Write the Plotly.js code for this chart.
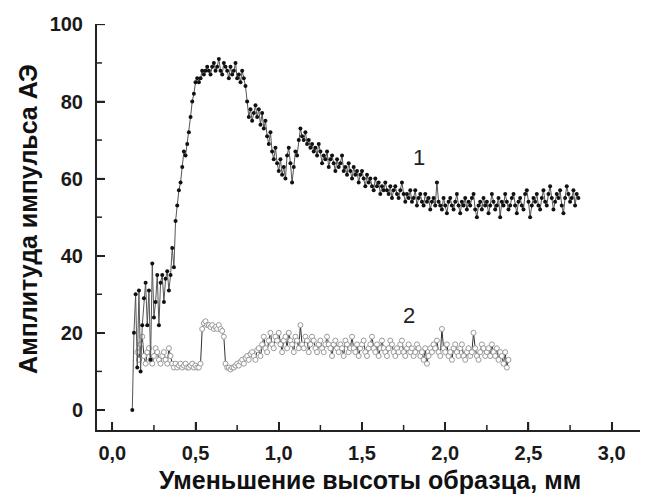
<!DOCTYPE html>
<html><head><meta charset="utf-8">
<script src="https://cdn.plot.ly/plotly-3.0.1.min.js"></script>
<style>html,body{margin:0;padding:0;background:#fff}#chart{width:648px;height:497px}</style>
</head><body><div id="chart"></div>
<script>
var x1 = [0.12,0.13,0.14,0.15,0.16,0.17,0.18,0.19,0.20,0.21,0.22,0.23,0.24,0.25,0.26,0.27,0.28,0.29,0.30,0.31,0.32,0.33,0.34,0.35,0.36,0.37,0.38,0.39,0.40,0.41,0.42,0.43,0.44,0.45,0.46,0.47,0.48,0.49,0.50,0.51,0.52,0.53,0.54,0.55,0.56,0.57,0.58,0.59,0.60,0.61,0.62,0.63,0.64,0.65,0.66,0.67,0.68,0.69,0.70,0.71,0.72,0.73,0.74,0.75,0.76,0.77,0.78,0.79,0.80,0.81,0.82,0.83,0.84,0.85,0.86,0.87,0.88,0.89,0.90,0.91,0.92,0.93,0.94,0.95,0.96,0.97,0.98,0.99,1.00,1.01,1.02,1.03,1.04,1.05,1.06,1.07,1.08,1.09,1.10,1.11,1.12,1.13,1.14,1.15,1.16,1.17,1.18,1.19,1.20,1.21,1.22,1.23,1.24,1.25,1.26,1.27,1.28,1.29,1.30,1.31,1.32,1.33,1.34,1.35,1.36,1.37,1.38,1.39,1.40,1.41,1.42,1.43,1.44,1.45,1.46,1.47,1.48,1.49,1.50,1.51,1.52,1.53,1.54,1.55,1.56,1.57,1.58,1.59,1.60,1.61,1.62,1.63,1.64,1.65,1.66,1.67,1.68,1.69,1.70,1.71,1.72,1.73,1.74,1.75,1.76,1.77,1.78,1.79,1.80,1.81,1.82,1.83,1.84,1.85,1.86,1.87,1.88,1.89,1.90,1.91,1.92,1.93,1.94,1.95,1.96,1.97,1.98,1.99,2.00,2.01,2.02,2.03,2.04,2.05,2.06,2.07,2.08,2.09,2.10,2.11,2.12,2.13,2.14,2.15,2.16,2.17,2.18,2.19,2.20,2.21,2.22,2.23,2.24,2.25,2.26,2.27,2.28,2.29,2.30,2.31,2.32,2.33,2.34,2.35,2.36,2.37,2.38,2.39,2.40,2.41,2.42,2.43,2.44,2.45,2.46,2.47,2.48,2.49,2.50,2.51,2.52,2.53,2.54,2.55,2.56,2.57,2.58,2.59,2.60,2.61,2.62,2.63,2.64,2.65,2.66,2.67,2.68,2.69,2.70,2.71,2.72,2.73,2.74,2.75,2.76,2.77,2.78,2.79,2.80];
var y1 = [0,20,30,11,31,10,22,29,33,22,31,13,38,24,28,35,22,33,35,28,34,36,31,35,42,37,
49,53,57,59,63,67,66,69,72,76,80,82,85,86,
85,86,88,87,88,89,88,87,89,90,88,89,91,88,87,90,89,88,86,89,87,88,90,86,87,85,88,86,
84,80,76,78,75,77,79,76,78,74,77,73,75,71,69,72,67,65,68,64,62,65,61,63,60,66,68,64,59,63,67,66,70,73,71,70,72,69,70,68,69,67,68,66,69,67,64,66,65,67,63,65,66,64,62,65,63,64,66,62,63,61,64,62,60,63,61,62,59,61,62,60,58,61,59,60,58,57,60,58,59,56,58,57,59,57,56,58,55,57,58,56,55,57,59,56,54,56,55,57,54,55,57,53,55,56,54,53,56,54,55,52,54,55,53,59,54,53,52,55,53,51,54,55,53,52,54,56,53,51,54,53,55,52,54,53,55,56,52,50,53,54,52,55,53,54,51,53,56,54,52,53,55,50,54,53,56,54,52,53,55,56,53,51,54,55,53,52,56,57,54,50,53,55,54,56,53,52,55,57,54,53,56,58,55,52,54,56,55,57,53,51,55,58,56,54,55,57,53,56,55];
var x2 = [0.15,0.16,0.17,0.18,0.19,0.20,0.21,0.22,0.23,0.24,0.25,0.26,0.27,0.28,0.29,0.30,0.31,0.32,0.33,0.34,0.35,0.36,0.37,0.38,0.39,0.40,0.41,0.42,0.43,0.44,0.45,0.46,0.47,0.48,0.49,0.50,0.51,0.52,0.53,0.54,0.55,0.56,0.57,0.58,0.59,0.60,0.61,0.62,0.63,0.64,0.65,0.66,0.67,0.68,0.69,0.70,0.71,0.72,0.73,0.74,0.75,0.76,0.77,0.78,0.79,0.80,0.81,0.82,0.83,0.84,0.85,0.86,0.87,0.88,0.89,0.90,0.91,0.92,0.93,0.94,0.95,0.96,0.97,0.98,0.99,1.00,1.01,1.02,1.03,1.04,1.05,1.06,1.07,1.08,1.09,1.10,1.11,1.12,1.13,1.14,1.15,1.16,1.17,1.18,1.19,1.20,1.21,1.22,1.23,1.24,1.25,1.26,1.27,1.28,1.29,1.30,1.31,1.32,1.33,1.34,1.35,1.36,1.37,1.38,1.39,1.40,1.41,1.42,1.43,1.44,1.45,1.46,1.47,1.48,1.49,1.50,1.51,1.52,1.53,1.54,1.55,1.56,1.57,1.58,1.59,1.60,1.61,1.62,1.63,1.64,1.65,1.66,1.67,1.68,1.69,1.70,1.71,1.72,1.73,1.74,1.75,1.76,1.77,1.78,1.79,1.80,1.81,1.82,1.83,1.84,1.85,1.86,1.87,1.88,1.89,1.90,1.91,1.92,1.93,1.94,1.95,1.96,1.97,1.98,1.99,2.00,2.01,2.02,2.03,2.04,2.05,2.06,2.07,2.08,2.09,2.10,2.11,2.12,2.13,2.14,2.15,2.16,2.17,2.18,2.19,2.20,2.21,2.22,2.23,2.24,2.25,2.26,2.27,2.28,2.29,2.30,2.31,2.32,2.33,2.34,2.35,2.36,2.37,2.38];
var y2 = [15,13,17,19,14,12,15,16,13,12,14,16,15,13,12,14,15,13,12,16,14,12,11,
12,11,11.5,12,11,11.5,12,11,11,11.5,12,11,11.5,11,11,12,
21,22.5,23,22,22,21.5,22,21,21.5,21,22,21,20.5,19,
12,11,11,10.5,11,11,11.5,12,11.5,
12.5,13,12,13.5,14,13,14.5,15,14,13,15.5,16,14,17,19,16,15,18,20,17,16,19,18,20,17,15,18,19,16,20,18,17,15,19,18,16,22,17,16,19,18,15,17,19,18,16,15,17,18,16,15,17,19,17,16,14,17,18,16,15,17,16,14,18,17,15,16,19,16,15,17,14,16,17,18,15,14,16,17,19,16,15,17,14,16,18,16,15,14,16,18,17,15,14,16,15,17,18,15,14,16,17,15,16,14,15,17,16,14,15,13,16,12,14,16,15,17,16,18,15,14,21,16,15,17,14,15,13,16,17,15,14,16,17,14,13,15,16,14,15,20,16,14,13,15,17,16,14,15,16,14,17,15,14,16,13,15,14,12,15,11,13];
var xTickVals = [0,0.5,1,1.5,2,2.5,3];
var xMinorVals = [0.25,0.75,1.25,1.75,2.25,2.75];
var xTickText = ['0,0','0,5','1,0','1,5','2,0','2,5','3,0'];
var yTickVals = [0,20,40,60,80,100];
var yMinorVals = [10,30,50,70,90];
var yTickText = ['0','20','40','60','80','100'];
var xTitle = 'Уменьшение высоты образца, мм';
var yTitle = 'Амплитуда импульса АЭ';
var curveLabels = ['1','2'];
var labelPos = [[1.84,65.4],[1.78,24.6]];

var F = 'Liberation Sans, Arial, sans-serif';
var XR = [-0.092, 3.17], YR = [-5.2, 100.1];
var W = 648, H = 497, M = {l:97, r:8, t:24, b:67};
var pxX = (XR[1]-XR[0])/(W-M.l-M.r), pxY = (YR[1]-YR[0])/(H-M.t-M.b);
function bold(a){ return a.map(function(s){ return '<b>'+s+'</b>'; }); }
// tick segments built from the tick arrays and the axis ranges
function xTickSegs(vals, len){
  var xs=[], ys=[];
  vals.forEach(function(v){ xs.push(v,v,null); ys.push(YR[0], YR[0]+len*pxY, null); });
  return {x:xs, y:ys, type:'scatter', mode:'lines', hoverinfo:'skip', cliponaxis:false,
    line:{color:'#222', width:1.5}};
}
function yTickSegs(vals, len){
  var xs=[], ys=[];
  vals.forEach(function(v){ ys.push(v,v,null); xs.push(XR[0], XR[0]+len*pxX, null); });
  return {x:xs, y:ys, type:'scatter', mode:'lines', hoverinfo:'skip', cliponaxis:false,
    line:{color:'#222', width:1.5}};
}
var traces = [
  {x:x2, y:y2, type:'scatter', mode:'lines+markers',
   line:{color:'#333333', width:1},
   marker:{symbol:'circle', size:5, color:'#ffffff', line:{color:'#9a9a9a', width:1}}},
  {x:x1, y:y1, type:'scatter', mode:'lines+markers',
   line:{color:'#555555', width:1},
   marker:{symbol:'circle', size:4, color:'#111111'}},
  xTickSegs(xTickVals, 8), xTickSegs(xMinorVals, 5),
  yTickSegs(yTickVals, 8), yTickSegs(yMinorVals, 5)
];
var layout = {
  width:W, height:H, margin:M,
  paper_bgcolor:'#fff', plot_bgcolor:'#fff',
  showlegend:false,
  xaxis:{
    range:XR, tickmode:'array', tickvals:xTickVals, ticktext:bold(xTickText),
    showline:true, linecolor:'#222', linewidth:2,
    ticks:'inside', ticklen:8, tickwidth:1.5, tickcolor:'#222',
    showgrid:false, zeroline:false, ticklabelstandoff:4,
    tickfont:{family:F, size:20, color:'#1a1a1a'}
  },
  yaxis:{
    range:YR, tickmode:'array', tickvals:yTickVals, ticktext:bold(yTickText),
    showline:true, linecolor:'#222', linewidth:2,
    ticks:'inside', ticklen:8, tickwidth:1.5, tickcolor:'#222',
    showgrid:false, zeroline:false, ticklabelstandoff:8,
    tickfont:{family:F, size:20, color:'#1a1a1a'}
  },
  annotations: curveLabels.map(function(t,i){
    return {x:labelPos[i][0], y:labelPos[i][1], text:t, showarrow:false,
      font:{family:F, size:22, color:'#222'}};
  }).concat([
    {xref:'paper', yref:'paper', x:0.503, y:-0.123, text:'<b>'+xTitle+'</b>', showarrow:false,
     xanchor:'center', yanchor:'middle', font:{family:F, size:25, color:'#111'}},
    {xref:'paper', yref:'paper', x:-0.127, y:0.52, text:'<b>'+yTitle+'</b>', showarrow:false, textangle:-90,
     xanchor:'center', yanchor:'middle', font:{family:F, size:25, color:'#111'}}
  ])
};
Plotly.newPlot('chart', traces, layout, {displayModeBar:false});
</script></body></html>
